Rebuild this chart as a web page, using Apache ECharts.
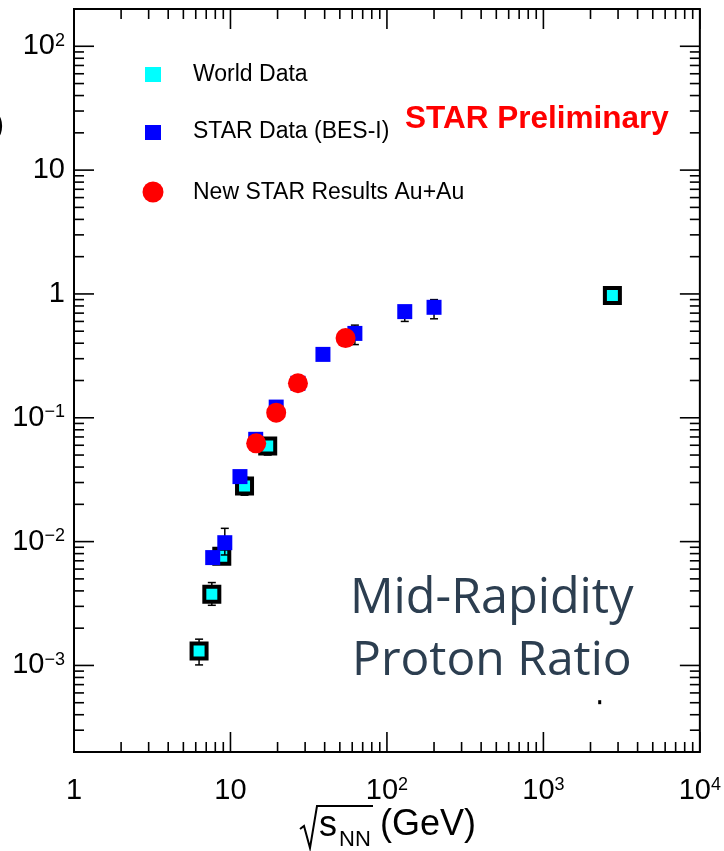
<!DOCTYPE html>
<html>
<head>
<meta charset="utf-8">
<script src="https://cdn.jsdelivr.net/npm/echarts@6/dist/echarts.min.js"></script>
<style>
  html, body { margin: 0; padding: 0; background: #ffffff; }
  #chart { width: 724px; height: 851px; }
</style>
</head>
<body>
<div id="chart"></div>
<script>
// Antiproton-to-proton ratio at mid-rapidity versus collision energy sqrt(s_NN) in GeV.

// World data (SPS and LHC)
const worldEnergy  = [6.3, 7.6, 8.8, 12.3, 17.3, 2760];
const worldRatio   = [0.00131, 0.00376, 0.0076, 0.0281, 0.0591, 0.97];
const worldErrLow  = [0.00101, 0.00306, 0.0068, 0.0237, 0.0500, 0.94];
const worldErrHigh = [0.00163, 0.00467, 0.0086, 0.0330, 0.0680, 1.00];

// STAR Beam Energy Scan phase I and earlier RHIC energies
const besEnergy  = [7.7, 9.2, 11.5, 14.5, 19.6, 27, 39, 62.4, 130, 200];
const besRatio   = [0.00743, 0.0098, 0.0335, 0.067, 0.122, 0.19, 0.325, 0.48, 0.72, 0.78];
const besErrLow  = [0.0068, 0.0078, 0.031, 0.062, 0.113, 0.18, 0.31, 0.39, 0.60, 0.63];
const besErrHigh = [0.0081, 0.0128, 0.036, 0.072, 0.131, 0.20, 0.34, 0.56, 0.80, 0.90];

// New STAR Au+Au results
const newEnergy = [14.6, 19.6, 27, 54.4];
const newRatio  = [0.0622, 0.110, 0.19, 0.44];

// Lone point near the lower right corner
const lonePointEnergy = [2290];
const lonePointRatio  = [0.000505];

// Axis ranges and labelled decades
const xRange = [1, 10000];
const yRange = [0.0002, 200];
const xLabelExponents = [0, 1, 2, 3, 4];
const yLabelExponents = [-3, -2, -1, 0, 1, 2];

function decadeLabel(v, exps) {
  const lg = Math.log10(v);
  const e = Math.round(lg);
  if (Math.abs(lg - e) > 1e-6 || exps.indexOf(e) < 0) return '';
  if (e === 0) return '1';
  if (e === 1) return '10';
  return '10{sup|' + (e < 0 ? '\u2212' + (-e) : e) + '}';
}

// Tick positions: 1..9 x 10^k inside each axis range; kind even = major, odd = minor
function tickData(range, isX) {
  const out = [];
  const k0 = Math.floor(Math.log10(range[0])) - 1;
  const k1 = Math.ceil(Math.log10(range[1])) + 1;
  for (let k = k0; k <= k1; k++) {
    for (let m = 1; m <= 9; m++) {
      const v = m * Math.pow(10, k);
      if (v < range[0] * 0.9999 || v > range[1] * 1.0001) continue;
      const kind = (isX ? 0 : 2) + (m === 1 ? 0 : 1);
      out.push(isX ? [v, 1, kind] : [1, v, kind]);
    }
  }
  return out;
}
const ticks = tickData(xRange, true).concat(tickData(yRange, false));

const tickStyle = { stroke: '#000', lineWidth: 1.6 };
function renderTick(params, api) {
  const cs = params.coordSys;
  const kind = api.value(2);
  const len = kind % 2 === 0 ? 20 : 10;
  if (kind < 2) {
    const px = api.coord([api.value(0), 1])[0];
    const b = cs.y + cs.height, t = cs.y;
    return { type: 'group', children: [
      { type: 'line', shape: { x1: px, y1: b, x2: px, y2: b - len }, style: tickStyle },
      { type: 'line', shape: { x1: px, y1: t, x2: px, y2: t + len }, style: tickStyle }
    ] };
  }
  const py = api.coord([1, api.value(1)])[1];
  const l = cs.x, r = cs.x + cs.width;
  return { type: 'group', children: [
    { type: 'line', shape: { x1: l, y1: py, x2: l + len, y2: py }, style: tickStyle },
    { type: 'line', shape: { x1: r, y1: py, x2: r - len, y2: py }, style: tickStyle }
  ] };
}

const barStyle = { stroke: '#000', lineWidth: 1.5 };
function renderErrorBar(params, api) {
  const x = api.value(0);
  const lo = api.coord([x, api.value(1)]);
  const hi = api.coord([x, api.value(2)]);
  const w = 4;
  return { type: 'group', children: [
    { type: 'line', shape: { x1: lo[0], y1: lo[1], x2: hi[0], y2: hi[1] }, style: barStyle },
    { type: 'line', shape: { x1: lo[0] - w, y1: lo[1], x2: lo[0] + w, y2: lo[1] }, style: barStyle },
    { type: 'line', shape: { x1: hi[0] - w, y1: hi[1], x2: hi[0] + w, y2: hi[1] }, style: barStyle }
  ] };
}

const pairs = (xs, ys) => xs.map((x, i) => [x, ys[i]]);
const triples = (xs, lo, hi) => xs.map((x, i) => [x, lo[i], hi[i]]);

const labelFont = {
  fontFamily: 'Liberation Sans', fontSize: 29, color: '#000',
  rich: { sup: { fontFamily: 'Liberation Sans', fontSize: 18, verticalAlign: 'top', color: '#000' } }
};

const chart = echarts.init(document.getElementById('chart'), null, { renderer: 'canvas' });
chart.setOption({
  backgroundColor: '#ffffff',
  animation: false,
  grid: { left: 74, right: 24, top: 9, bottom: 99, show: true, borderColor: '#000', borderWidth: 2, backgroundColor: 'transparent' },
  xAxis: {
    type: 'log', logBase: 10, min: xRange[0], max: xRange[1],
    axisLine: { show: false }, axisTick: { show: false }, splitLine: { show: false },
    axisLabel: Object.assign({ margin: 24, formatter: v => decadeLabel(v, xLabelExponents), hideOverlap: false }, labelFont)
  },
  yAxis: {
    type: 'log', logBase: 10, min: yRange[0], max: yRange[1],
    axisLine: { show: false }, axisTick: { show: false }, splitLine: { show: false },
    axisLabel: Object.assign({ margin: 9, formatter: v => decadeLabel(v, yLabelExponents), hideOverlap: false }, labelFont)
  },
  series: [
    { type: 'custom', name: 'ticks', renderItem: renderTick, data: ticks, encode: { x: 0, y: 1 }, silent: true, z: 5 },
    { type: 'custom', name: 'World Data errors', renderItem: renderErrorBar, data: triples(worldEnergy, worldErrLow, worldErrHigh), encode: { x: 0, y: [1, 2] }, z: 2 },
    { type: 'scatter', name: 'World Data', data: pairs(worldEnergy, worldRatio), symbol: 'rect', symbolSize: 15,
      itemStyle: { color: '#00ffff', borderColor: '#000', borderWidth: 4, opacity: 1 }, z: 2 },
    { type: 'custom', name: 'STAR Data errors', renderItem: renderErrorBar, data: triples(besEnergy, besErrLow, besErrHigh), encode: { x: 0, y: [1, 2] }, z: 3 },
    { type: 'scatter', name: 'STAR Data (BES-I)', data: pairs(besEnergy, besRatio), symbol: 'rect', symbolSize: 15,
      itemStyle: { color: '#0000ff', opacity: 1 }, z: 3 },
    { type: 'scatter', name: 'New STAR Results Au+Au', data: pairs(newEnergy, newRatio), symbol: 'circle', symbolSize: 20,
      itemStyle: { color: '#ff0000', opacity: 1 }, z: 4 },
    { type: 'scatter', name: 'lone point', data: pairs(lonePointEnergy, lonePointRatio), symbol: 'rect', symbolSize: [3, 4],
      itemStyle: { color: '#000', opacity: 1 }, z: 4 }
  ],
  graphic: [
    // legend
    { type: 'rect', shape: { x: 145, y: 67, width: 16, height: 15 }, style: { fill: '#00ffff' } },
    { type: 'text', x: 193, y: 75, style: { text: 'World Data', fontFamily: 'Liberation Sans', fontSize: 23, fill: '#000', textVerticalAlign: 'middle' } },
    { type: 'rect', shape: { x: 145, y: 125, width: 16, height: 15 }, style: { fill: '#0000ff' } },
    { type: 'text', x: 193, y: 132, style: { text: 'STAR Data (BES-I)', fontFamily: 'Liberation Sans', fontSize: 23, fill: '#000', textVerticalAlign: 'middle' } },
    { type: 'circle', shape: { cx: 153, cy: 192, r: 10.5 }, style: { fill: '#ff0000' } },
    { type: 'text', x: 193, y: 193, style: { text: 'New STAR Results Au+Au', fontFamily: 'Liberation Sans', fontSize: 23, fill: '#000', textVerticalAlign: 'middle' } },
    { type: 'text', x: 405, y: 119, style: { text: 'STAR Preliminary', fontFamily: 'Liberation Sans', fontWeight: 'bold', fontSize: 31.5, fill: '#ff0000', textVerticalAlign: 'middle' } },
    // annotation
    { type: 'text', x: 350, y: 599, style: { text: 'Mid-Rapidity', fontFamily: 'Open Sans', fontSize: 48.5, fill: '#2c3e50', textVerticalAlign: 'middle' } },
    { type: 'text', x: 352, y: 661, style: { text: 'Proton Ratio', fontFamily: 'Open Sans', fontSize: 48, fill: '#2c3e50', textVerticalAlign: 'middle' } },
    // x-axis title: sqrt(s_NN) (GeV)
    { type: 'polyline', shape: { points: [[300, 829], [304, 826], [310, 848], [317, 806], [373, 806]] }, style: { stroke: '#000', lineWidth: 2, fill: null } },
    { type: 'text', x: 319, y: 826, style: { text: 's', fontFamily: 'Liberation Sans', fontSize: 36, fill: '#000', textVerticalAlign: 'middle' } },
    { type: 'text', x: 339, y: 840, style: { text: 'NN', fontFamily: 'Liberation Sans', fontSize: 22, fill: '#000', textVerticalAlign: 'middle' } },
    { type: 'text', x: 380, y: 825, style: { text: '(GeV)', fontFamily: 'Liberation Sans', fontSize: 36, fill: '#000', textVerticalAlign: 'middle' } },
    // y-axis title, clipped at the left edge
    { type: 'text', x: 4, y: 126, style: { text: ')', fontFamily: 'Liberation Sans', fontSize: 29, fill: '#000', textAlign: 'right', textVerticalAlign: 'middle' } }
  ]
});
</script>
</body>
</html>
